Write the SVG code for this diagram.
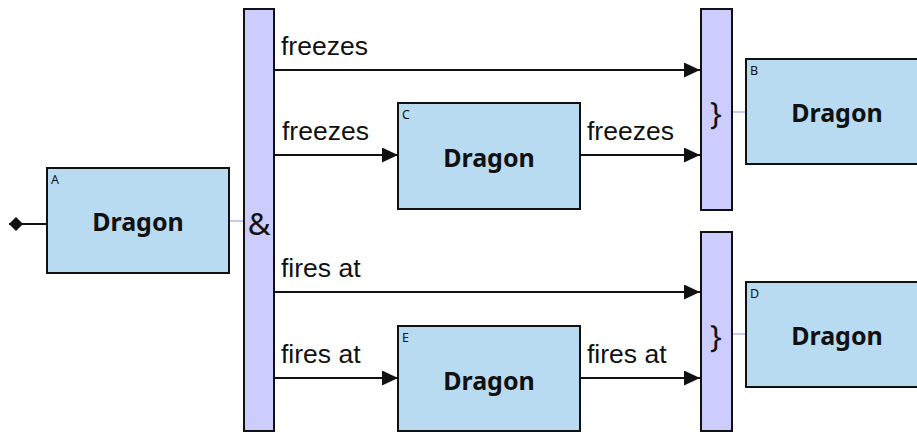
<svg xmlns="http://www.w3.org/2000/svg" width="917" height="432" viewBox="0 0 917 432">
<defs>
<style>
.node{fill:#b9dbf1;stroke:#111;stroke-width:2}
.bar{fill:#ccccff;stroke:#111;stroke-width:2}
.big{font-family:"Noto Sans","Open Sans",sans-serif;font-weight:bold;font-size:25px;fill:#111;text-anchor:middle}
.tag{font-family:"Noto Sans","Open Sans",sans-serif;font-size:12.5px;fill:#111}
.lbl{font-family:"Liberation Sans",Arial,sans-serif;font-size:26.5px;fill:#111}
.sym{font-family:"Noto Sans","Open Sans",sans-serif;font-size:31px;fill:#111;text-anchor:middle}
.edge{stroke:#111;stroke-width:2;fill:none}
.link{stroke:#c8c8f4;stroke-width:2;fill:none}
</style>
<marker id="arr" viewBox="0 0 16 15" refX="16" refY="7.5" markerWidth="16" markerHeight="15" markerUnits="userSpaceOnUse" orient="auto">
<path d="M0,0 L16,7.5 L0,15 Z" fill="#111"/>
</marker>
<marker id="dia" viewBox="0 0 14 14" refX="0" refY="7" markerWidth="14" markerHeight="14" markerUnits="userSpaceOnUse" orient="auto">
<path d="M0,7 L7,0 L14,7 L7,14 Z" fill="#111"/>
</marker>
</defs>
<rect width="917" height="432" fill="#fff"/>
<g id="connectors">
<line class="edge" x1="9" y1="224" x2="47" y2="224" marker-start="url(#dia)"/>
<line class="link" x1="229" y1="221" x2="244" y2="221"/>
<line class="link" x1="732" y1="112" x2="746" y2="112"/>
<line class="link" x1="732" y1="334" x2="746" y2="334"/>
<line class="edge" x1="274" y1="70" x2="700" y2="70" marker-end="url(#arr)"/>
<text class="lbl" x="281" y="55">freezes</text>
<line class="edge" x1="274" y1="155" x2="398" y2="155" marker-end="url(#arr)"/>
<text class="lbl" x="282" y="140">freezes</text>
<line class="edge" x1="580" y1="155" x2="700" y2="155" marker-end="url(#arr)"/>
<text class="lbl" x="587" y="140">freezes</text>
<line class="edge" x1="274" y1="292" x2="700" y2="292" marker-end="url(#arr)"/>
<text class="lbl" x="281" y="277">fires at</text>
<line class="edge" x1="274" y1="378" x2="398" y2="378" marker-end="url(#arr)"/>
<text class="lbl" x="281" y="363">fires at</text>
<line class="edge" x1="580" y1="378" x2="700" y2="378" marker-end="url(#arr)"/>
<text class="lbl" x="587" y="363">fires at</text>
</g>
<g id="and">
<rect class="bar" x="244" y="9" width="30" height="422"/>
<text class="sym" x="259" y="235">&amp;</text>
</g>
<g id="join1">
<rect class="bar" x="701" y="9" width="31" height="201"/>
<text class="sym" x="716" y="124">}</text>
</g>
<g id="join2">
<rect class="bar" x="701" y="232" width="31" height="199"/>
<text class="sym" x="716" y="347">}</text>
</g>
<g id="A">
<rect class="node" x="47" y="168" width="182" height="105"/>
<text class="tag" x="51" y="184">A</text>
<text class="big" x="138" y="231">Dragon</text>
</g>
<g id="B">
<rect class="node" x="746" y="59" width="182" height="105"/>
<text class="tag" x="750" y="75">B</text>
<text class="big" x="837" y="122">Dragon</text>
</g>
<g id="C">
<rect class="node" x="398" y="103" width="182" height="106"/>
<text class="tag" x="402" y="119">C</text>
<text class="big" x="489" y="167">Dragon</text>
</g>
<g id="D">
<rect class="node" x="746" y="282" width="182" height="105"/>
<text class="tag" x="750" y="298">D</text>
<text class="big" x="837" y="345">Dragon</text>
</g>
<g id="E">
<rect class="node" x="398" y="326" width="182" height="105"/>
<text class="tag" x="402" y="342">E</text>
<text class="big" x="489" y="390">Dragon</text>
</g>
</svg>
